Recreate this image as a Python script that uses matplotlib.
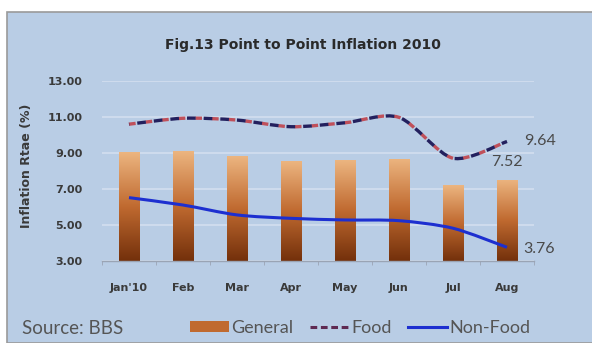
import numpy as np
import matplotlib
matplotlib.use("Agg")
import matplotlib.pyplot as plt
from matplotlib.path import Path
from matplotlib.patches import PathPatch, Rectangle, Patch
from matplotlib.lines import Line2D
from matplotlib.colors import LinearSegmentedColormap

plt.rcParams['font.family'] = ['Lato', 'DejaVu Sans']
bold_font = 'DejaVu Sans'

# Monthly inflation figures, 2010
months = ["Jan'10", "Feb", "Mar", "Apr", "May", "Jun", "Jul", "Aug"]
general = [9.04, 9.10, 8.82, 8.54, 8.61, 8.68, 7.22, 7.52]
food = [10.60, 10.93, 10.83, 10.46, 10.68, 10.98, 8.71, 9.64]
non_food = [6.52, 6.11, 5.56, 5.37, 5.28, 5.24, 4.82, 3.76]

panel_bg = '#b9cde5'
text_dark = '#3a3a3a'


def smooth_path(xs, ys, k=0.14):
    # Bezier path through the points (Catmull-Rom style tangents)
    pts = np.column_stack([xs, ys]).astype(float)
    n = len(pts)
    verts = [pts[0]]
    codes = [Path.MOVETO]
    for i in range(n - 1):
        p0 = pts[i - 1] if i > 0 else pts[i]
        p1, p2 = pts[i], pts[i + 1]
        p3 = pts[i + 2] if i + 2 < n else pts[i + 1]
        c1 = p1 + (p2 - p0) * k
        c2 = p2 - (p3 - p1) * k
        verts += [c1, c2, p2]
        codes += [Path.CURVE4] * 3
    return Path(verts, codes)


fig = plt.figure(figsize=(5.92, 3.43), dpi=100)
fig.patch.set_facecolor('white')

# light blue chart panel with a grey frame
fig.patches.append(Rectangle((7 / 592, 0), 1.0, 1 - 12 / 343, transform=fig.transFigure,
                             facecolor=panel_bg, edgecolor='#9a9a9a', linewidth=1.2, zorder=-1))

ax = fig.add_axes([102 / 592, 82 / 343, 432 / 592, 180 / 343])
ax.set_facecolor('none')
x = np.arange(len(months))
ax.set_xlim(-0.5, len(months) - 0.5)
ax.set_ylim(3, 13)

for s in ['top', 'right', 'left']:
    ax.spines[s].set_visible(False)
ax.spines['bottom'].set_color('#9aa4b4')
ax.spines['bottom'].set_linewidth(1.0)

ax.set_yticks([3, 5, 7, 9, 11, 13])
ax.set_yticklabels(['%.2f' % v for v in [3, 5, 7, 9, 11, 13]],
                   fontsize=8, fontweight='bold', family=bold_font, color=text_dark)
ax.yaxis.grid(True, color='#cfdcee', linewidth=1.4)
ax.set_axisbelow(True)
ax.tick_params(axis='y', length=0, pad=14)

ax.set_xticks(x)
ax.set_xticklabels(months, fontsize=8, fontweight='bold', family=bold_font, color=text_dark)
ax.set_xticks(np.arange(-0.5, len(months)), minor=True)
ax.tick_params(axis='x', which='major', length=0, pad=16)
ax.tick_params(axis='x', which='minor', length=3, color='#9aa4b4', direction='out')

# General: bars with a vertical brown gradient
bar_cmap = LinearSegmentedColormap.from_list('bar', ['#73300b', '#c06a30', '#ecb580'])
grad = np.linspace(0, 1, 256).reshape(-1, 1)
width = 0.38
bars = ax.bar(x, [g - 3 for g in general], bottom=3, width=width, color='none', edgecolor='none')
for rect in bars:
    x0, y0 = rect.get_x(), rect.get_y()
    im = ax.imshow(grad, cmap=bar_cmap, origin='lower', aspect='auto',
                   extent=(x0, x0 + rect.get_width(), y0, y0 + rect.get_height()), zorder=2)
    im.set_clip_path(rect)
ax.set_xlim(-0.5, len(months) - 0.5)
ax.set_ylim(3, 13)

# Food: smoothed two-tone dashed line
food_path = smooth_path(x, food)
ax.add_patch(PathPatch(food_path, fill=False, edgecolor='#c0505a', linewidth=2.4,
                       linestyle=(0, (2, 3)), capstyle='butt', zorder=3))
ax.add_patch(PathPatch(food_path, fill=False, edgecolor='#23205e', linewidth=2.4,
                       linestyle=(2.5, (2.6, 2.4)), capstyle='butt', zorder=4))

# Non-Food: smoothed solid blue line
ax.add_patch(PathPatch(smooth_path(x, non_food), fill=False, edgecolor='#1d2fd0',
                       linewidth=2.2, zorder=4))

# value labels for August
last = len(months) - 1
ax.annotate('%.2f' % food[last], (x[last], food[last]), xytext=(12, 0), textcoords='offset points',
            va='center', ha='left', fontsize=11.5, color='#4a4a4a', annotation_clip=False)
ax.annotate('%.2f' % general[last], (x[last], general[last]), xytext=(0, 13), textcoords='offset points',
            va='center', ha='center', fontsize=11.5, color='#4a4a4a', annotation_clip=False)
ax.annotate('%.2f' % non_food[last], (x[last], non_food[last]), xytext=(12, -1), textcoords='offset points',
            va='center', ha='left', fontsize=11.5, color='#4a4a4a', annotation_clip=False)

ax.set_ylabel('Inflation Rtae (%)', fontsize=9, fontweight='bold', family=bold_font, color=text_dark)
ax.yaxis.set_label_coords(-0.16, 0.53)

fig.text(303 / 592, 1 - 45 / 343, 'Fig.13 Point to Point Inflation 2010', ha='center', va='center',
         fontsize=10, fontweight='bold', family=bold_font, color='#2a2a2a')
fig.text(22 / 592, 1 - 328 / 343, 'Source: BBS', ha='left', va='center', fontsize=13.5, color='#555555')

handles = [Patch(facecolor='#c06a30', edgecolor='none'),
           Line2D([], [], color='#5e2a52', linewidth=2.2, linestyle=(0, (2.2, 1.2))),
           Line2D([], [], color='#1d2fd0', linewidth=2.2)]
fig.legend(handles, ['General', 'Food', 'Non-Food'], loc='center', ncol=3,
           bbox_to_anchor=(360 / 592, 1 - 328 / 343), frameon=False, fontsize=13,
           labelcolor='#555555', handlelength=2.2, handleheight=0.5, handletextpad=0.1,
           columnspacing=0.9)

fig.savefig('out.png', dpi=100, facecolor=fig.get_facecolor())
